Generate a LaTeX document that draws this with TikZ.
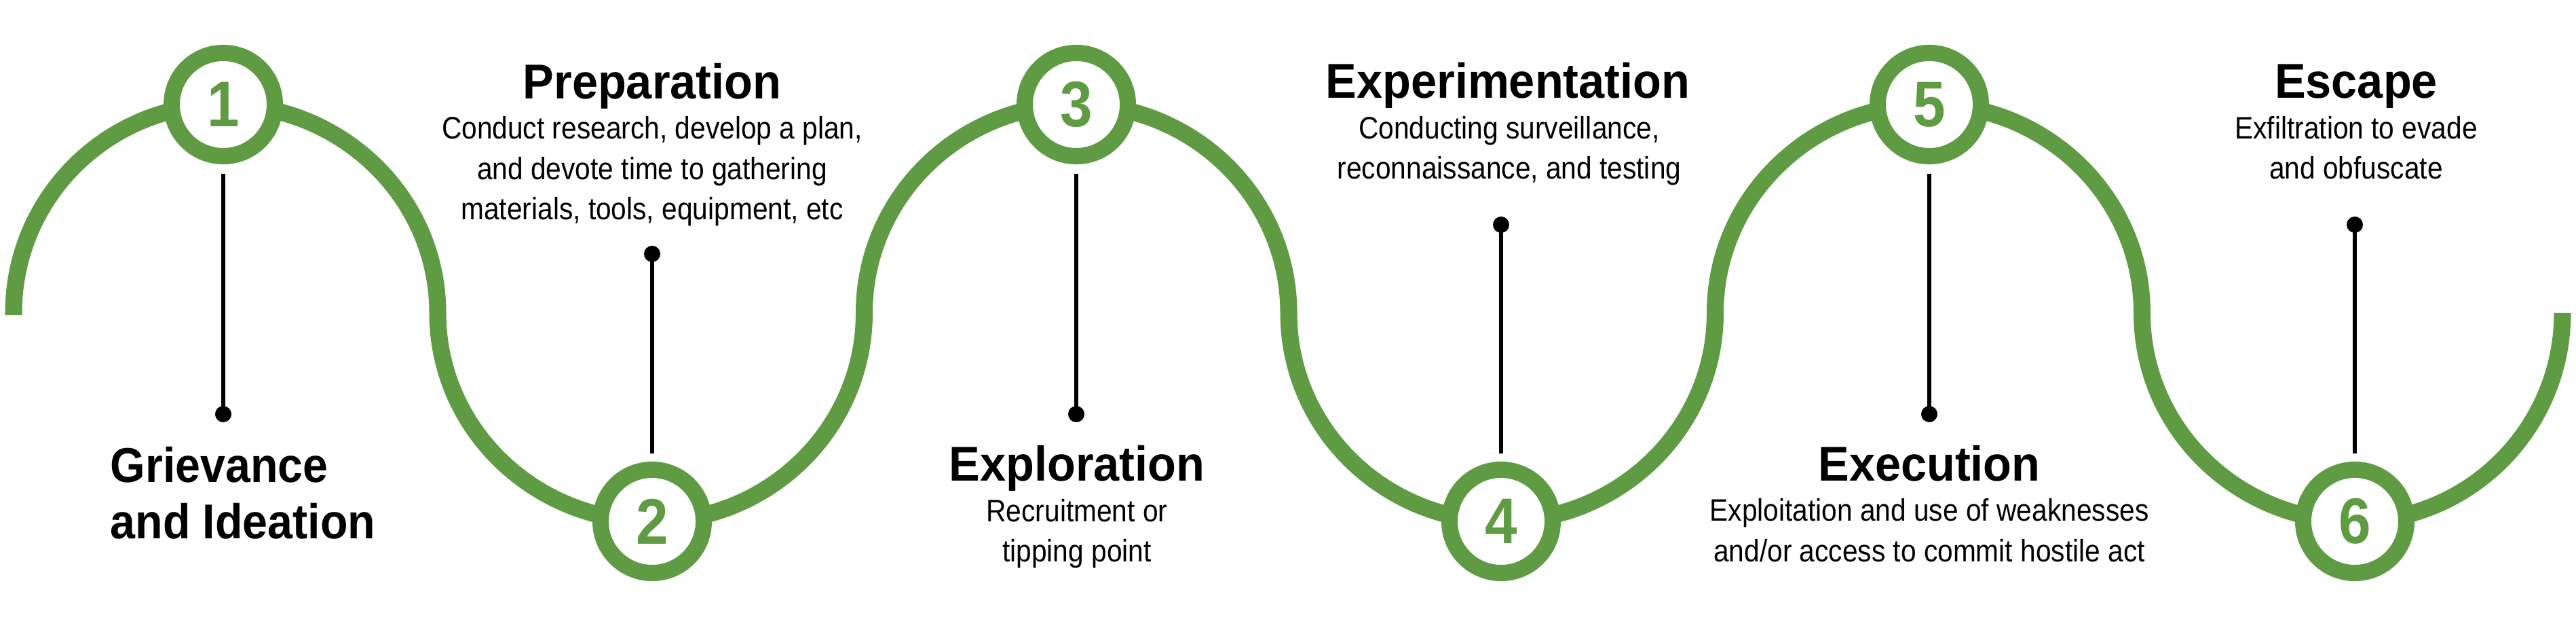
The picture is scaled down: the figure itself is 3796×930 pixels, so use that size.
\documentclass[tikz,border=0pt]{standalone}
\usepackage{fontspec}
\setmainfont{Liberation Sans}
\newfontfamily\titlefont{Liberation Sans}[FakeStretch=0.95]
\newfontfamily\titlefontn{Liberation Sans}[FakeStretch=0.92]
\newfontfamily\digitfont{Liberation Sans}[FakeStretch=0.9]
\newfontfamily\bodyfont{Liberation Sans}[FakeStretch=0.89]
\definecolor{pgreen}{HTML}{5E9B42}
\begin{document}
\begin{tikzpicture}[x=0.01cm, y=-0.01cm,
  wave/.style={draw=pgreen, line width=0.25cm},
  ring/.style={circle, draw=pgreen, line width=0.24cm, fill=white, minimum size=1.52cm, inner sep=0pt,
    text=pgreen, font=\digitfont\bfseries\fontsize{27pt}{27pt}\selectfont},
  stem/.style={draw=black, line width=0.06cm},
  dotn/.style={circle, fill=black, minimum size=0.24cm, inner sep=0pt},
  ttl/.style={anchor=base, inner sep=0pt, font=\titlefont\bfseries\fontsize{20.5pt}{24pt}\selectfont},
  ttlw/.style={anchor=base west, inner sep=0pt, font=\titlefontn\bfseries\fontsize{20.5pt}{24pt}\selectfont},
  bdy/.style={anchor=base, inner sep=0pt, font=\bodyfont\fontsize{13pt}{15pt}\selectfont}
]
\fill[white] (0,0) rectangle (3796,930);
\useasboundingbox (0,0) rectangle (3796,930);

% wave
\draw[wave] (20,464) -- (20,461)
  .. controls (20,291) and (158.3,154) .. (329,154)
  .. controls (503.5,154) and (645,291) .. (645,461)
  .. controls (645,631) and (786.5,768) .. (961,768)
  .. controls (1133.6,768) and (1273.5,631) .. (1273.5,461)
  .. controls (1273.5,291) and (1413.4,154) .. (1586,154)
  .. controls (1758.9,154) and (1899,291) .. (1899,461)
  .. controls (1899,631) and (2039.1,768) .. (2212,768)
  .. controls (2386.2,768) and (2527.5,631) .. (2527.5,461)
  .. controls (2527.5,291) and (2668.8,154) .. (2843,154)
  .. controls (3016.1,154) and (3156.5,291) .. (3156.5,461)
  .. controls (3156.5,631) and (3296.9,768) .. (3470,768)
  .. controls (3639,768) and (3776,631) .. (3776,461) -- (3776,464);

% rings
\node[ring] (c1) at (329,154) {1};
\node[ring] (c2) at (961,768) {2};
\node[ring] (c3) at (1586,154) {3};
\node[ring] (c4) at (2212,768) {4};
\node[ring] (c5) at (2843,154) {5};
\node[ring] (c6) at (3470,768) {6};

% stems
\coordinate (s1) at (329,256);
\node[dotn] (d1) at (329,610) {};
\draw[stem] (s1) -- (d1.center);
\coordinate (s2) at (961,668);
\node[dotn] (d2) at (961,374) {};
\draw[stem] (s2) -- (d2.center);
\coordinate (s3) at (1586,256);
\node[dotn] (d3) at (1586,610) {};
\draw[stem] (s3) -- (d3.center);
\coordinate (s4) at (2212,668);
\node[dotn] (d4) at (2212,331) {};
\draw[stem] (s4) -- (d4.center);
\coordinate (s5) at (2843,256);
\node[dotn] (d5) at (2843,610) {};
\draw[stem] (s5) -- (d5.center);
\coordinate (s6) at (3470,668);
\node[dotn] (d6) at (3470,331) {};
\draw[stem] (s6) -- (d6.center);

% texts
\node[ttlw] (t1a) at (162,710) {Grievance};
\node[ttlw] (t1b) at (162,793) {and Ideation};

\node[ttl] (t2) at (961,145) {Preparation};
\node[bdy] (b2a) at (961,204) {Conduct research, develop a plan,};
\node[bdy] (b2b) at (961,264) {and devote time to gathering};
\node[bdy] (b2c) at (961,323) {materials, tools, equipment, etc};

\node[ttl] (t3) at (1587,708) {Exploration};
\node[bdy] (b3a) at (1587,768) {Recruitment or};
\node[bdy] (b3b) at (1587,827) {tipping point};

\node[ttl] (t4) at (2222,144) {Experimentation};
\node[bdy] (b4a) at (2224,204) {Conducting surveillance,};
\node[bdy] (b4b) at (2224,263) {reconnaissance, and testing};

\node[ttl] (t5) at (2843,708) {Execution};
\node[bdy] (b5a) at (2843,767) {Exploitation and use of weaknesses};
\node[bdy] (b5b) at (2843,827) {and/or access to commit hostile act};

\node[ttl] (t6) at (3472,144) {Escape};
\node[bdy] (b6a) at (3472,204) {Exfiltration to evade};
\node[bdy] (b6b) at (3472,263) {and obfuscate};
\end{tikzpicture}
\end{document}
